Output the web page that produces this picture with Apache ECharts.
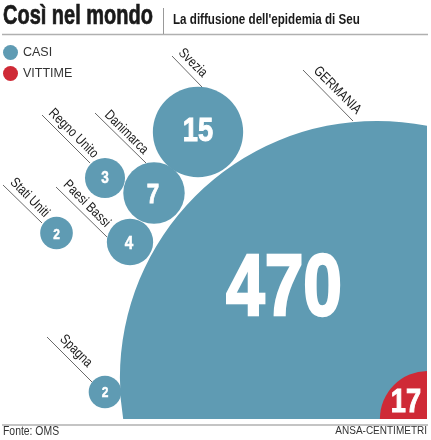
<!DOCTYPE html>
<html>
<head>
<meta charset="utf-8">
<title>Così nel mondo</title>
<script src="https://cdn.jsdelivr.net/npm/echarts@6/dist/echarts.min.js"></script>
<style>
  html, body { margin: 0; padding: 0; background: #fff; }
  #chart { width: 431px; height: 440px; }
</style>
</head>
<body>
<div id="chart"></div>
<script>
// data
const countries = ['GERMANIA', 'Svezia', 'Danimarca', 'Regno Unito', 'Paesi Bassi', 'Stati Uniti', 'Spagna'];
const casi = [470, 15, 7, 3, 4, 2, 2];
const vittime = [17];

// bubble centres on the hidden axes
const bubbleX = [377, 198, 154, 105, 130, 56.5, 105];
const bubbleY = [378, 132, 193, 178, 242, 233, 392];
const vittimeX = [428];
const vittimeY = [419];

// leader lines and name anchors, on the same axes
const leaderX0 = [303, 172, 95, 42, 56, 3, 47];
const leaderY0 = [70, 56, 113, 115, 187, 185, 337];
const leaderX1 = [353, 202, 146, 90, 107, 42, 92];
const leaderY1 = [121, 87, 163, 163, 237, 223, 382];
const nameX = [354, 200, 141, 91, 103, 42, 85];
const nameY = [117, 80, 157, 161, 230, 220, 370];

const sans = '"Liberation Sans"';
const blue = '#5f9bb3';
const red = '#cf2a36';
const radiusScale = 11.5;   // px per case^radiusPower
const radiusPower = 0.505;
const squeeze = 0.8;        // the source face is condensed, none is installed

const bubbleFont = [87, 34, 28, 17, 19, 15, 15];
const bubbleOffset = [[-93, -87], [0, 0], [-1, 2], [0, 0], [-1, 2], [0, 2], [0, 1]];
const vittimeFont = [34];
const vittimeOffset = [[-22, -16]];

const renderBubble = (color, fonts, offsets) => (params, api) => {
    const c = api.coord([api.value(0), api.value(1)]);
    const v = api.value(2);
    const r = api.size([radiusScale * Math.pow(v, radiusPower), 0])[0];
    const off = offsets[params.dataIndex];
    const size = fonts[params.dataIndex];
    return {
        type: 'group',
        children: [
            { type: 'circle', shape: { cx: c[0], cy: c[1], r: r }, style: { fill: color } },
            {
                type: 'text',
                x: c[0] + off[0],
                y: c[1] + off[1],
                scaleX: squeeze,
                style: {
                    text: String(v),
                    align: 'center',
                    verticalAlign: 'middle',
                    fontFamily: sans,
                    fontWeight: 'bold',
                    fontSize: size,
                    fill: '#fff',
                    stroke: '#fff',
                    lineWidth: size * 0.03
                }
            }
        ]
    };
};

const heading = (text, x, y, size, weight, scale, fill, stroke) => ({
    type: 'text',
    x: x,
    y: y,
    scaleX: scale,
    style: {
        text: text, fontFamily: sans, fontWeight: weight, fontSize: size,
        fill: fill, stroke: stroke ? fill : null, lineWidth: stroke || 0, verticalAlign: 'middle'
    }
});

const chart = echarts.init(document.getElementById('chart'));

chart.setOption({
    animation: false,
    backgroundColor: '#fff',
    grid: { left: 0, top: 0, width: 427, height: 419 },
    xAxis: { type: 'value', min: 0, max: 427, show: false },
    yAxis: { type: 'value', min: 0, max: 419, inverse: true, show: false },
    legend: {
        left: 3, top: 45, orient: 'vertical',
        itemWidth: 15, itemHeight: 15, itemGap: 6, padding: 0,
        icon: 'circle', selectedMode: false,
        data: ['CASI', 'VITTIME'],
        textStyle: { fontFamily: sans, fontSize: 12.5, color: '#333', padding: [0, 0, 0, 0] }
    },
    graphic: [
        heading('Così nel mondo', 3, 17, 27, 'bold', 0.74, '#1a1a1a', 0.7),
        heading("La diffusione dell'epidemia di Seu", 173, 20, 14, 'bold', 0.83, '#1a1a1a'),
        heading('Fonte: OMS', 3, 431, 13, 'normal', 0.8, '#333'),
        { type: 'text', right: 4, top: 426,
          style: { text: 'ANSA-CENTIMETRI', fontFamily: sans, fontSize: 10, fill: '#333' } },
        { type: 'line', shape: { x1: 2, y1: 34.5, x2: 428, y2: 34.5 }, style: { stroke: '#b0b0b0', lineWidth: 1.4 } },
        { type: 'line', shape: { x1: 163.5, y1: 8, x2: 163.5, y2: 34 }, style: { stroke: '#999', lineWidth: 1 } },
        { type: 'line', shape: { x1: 2, y1: 425, x2: 428, y2: 425 }, style: { stroke: '#b0b0b0', lineWidth: 1.4 } }
    ],
    series: [
        {
            name: 'CASI',
            type: 'custom',
            clip: true,
            z: 2,
            itemStyle: { color: blue },
            encode: { x: 0, y: 1 },
            data: casi.map((v, i) => [bubbleX[i], bubbleY[i], v]),
            renderItem: renderBubble(blue, bubbleFont, bubbleOffset)
        },
        {
            name: 'VITTIME',
            type: 'custom',
            clip: true,
            z: 3,
            itemStyle: { color: red },
            encode: { x: 0, y: 1 },
            data: vittime.map((v, i) => [vittimeX[i], vittimeY[i], v]),
            renderItem: renderBubble(red, vittimeFont, vittimeOffset)
        },
        {
            // leader line plus rotated country name
            type: 'custom',
            z: 4,
            silent: true,
            data: countries.map((c, i) => [leaderX0[i], leaderY0[i], leaderX1[i], leaderY1[i], nameX[i], nameY[i]]),
            renderItem: (params, api) => {
                const a = api.coord([api.value(0), api.value(1)]);
                const b = api.coord([api.value(2), api.value(3)]);
                const t = api.coord([api.value(4), api.value(5)]);
                return {
                    type: 'group',
                    children: [
                        {
                            type: 'line',
                            shape: { x1: a[0], y1: a[1], x2: b[0], y2: b[1] },
                            style: { stroke: '#444', lineWidth: 0.8 }
                        },
                        {
                            type: 'text',
                            x: t[0],
                            y: t[1],
                            rotation: -Math.PI / 4,
                            scaleX: 0.82,
                            style: {
                                text: countries[params.dataIndex],
                                align: 'right',
                                verticalAlign: 'bottom',
                                fontFamily: sans,
                                fontSize: 14,
                                fill: '#1a1a1a'
                            }
                        }
                    ]
                };
            }
        }
    ]
});
</script>
</body>
</html>
